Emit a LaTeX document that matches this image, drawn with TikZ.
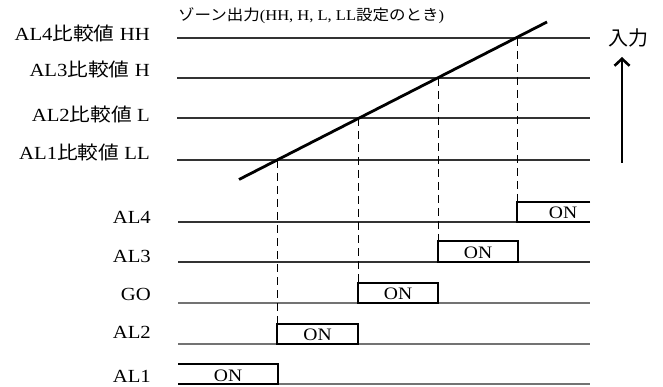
\documentclass[tikz,border=0pt]{standalone}
\usepackage{fontspec}
\setmainfont{Liberation Serif}
\newfontfamily\jp{Noto Sans CJK JP}
\usetikzlibrary{arrows.meta}
\newcommand{\sx}[1]{\scalebox{1.12}[1]{#1}}
\begin{document}
\begin{tikzpicture}[x=1pt,y=-1pt,
  thinline/.style={line width=1.1pt, draw=black!80},
  greyline/.style={line width=1.1pt, draw=black!55},
  slope/.style={line width=2.8pt, line cap=butt},
  onbox/.style={line width=2.4pt, line join=miter},
  dashv/.style={line width=1pt, dash pattern=on 8pt off 5pt},
  lab/.style={font=\fontsize{18.5}{18.5}\selectfont, inner sep=0pt, anchor=base east},
  ontext/.style={font=\fontsize{17.5}{17.5}\selectfont, inner sep=0pt, anchor=base}]
\useasboundingbox (0,0) rectangle (663,387);

% title
\node[inner sep=0pt, anchor=base west, font=\fontsize{15}{15}\selectfont] (title) at (178,21)
  {\scalebox{1.1}[1]{{\jp ゾーン出力}(HH, H, L, LL{\jp 設定のとき})}};

% top threshold lines
\coordinate (t4l) at (177,38);  \coordinate (t4r) at (590,38);
\coordinate (t3l) at (177,78);  \coordinate (t3r) at (590,78);
\coordinate (t2l) at (177,118); \coordinate (t2r) at (590,118);
\coordinate (t1l) at (177,160); \coordinate (t1r) at (590,160);
\draw[thinline] (t4l) -- (t4r);
\draw[thinline] (t3l) -- (t3r);
\draw[thinline] (t2l) -- (t2r);
\draw[thinline] (t1l) -- (t1r);

\node[lab] (l4) at (150,41) {\sx{AL4{\jp 比較値} HH}};
\node[lab] (l3) at (150,77) {\sx{AL3{\jp 比較値} H}};
\node[lab] (l2) at (150,122) {\sx{AL2{\jp 比較値} L}};
\node[lab] (l1) at (150,160) {\sx{AL1{\jp 比較値} LL}};

% input slope
\coordinate (s0) at (239,179.5);
\coordinate (s1) at (547,22);
\draw[slope] (s0) -- (s1);
\coordinate (c1) at (277,160);
\coordinate (c2) at (358,118);
\coordinate (c3) at (438,78);
\coordinate (c4) at (517,38);

% input arrow
\node[inner sep=0pt, anchor=base, font=\jp\fontsize{20}{20}\selectfont] (inp) at (628,46) {入力};
\coordinate (abot) at (622,163);
\coordinate (atop) at (622,57);
\draw[line width=2.6pt, -{Straight Barb[length=7pt,width=15pt,line width=2.6pt]}] (abot) -- (atop);

% bottom output lines
\coordinate (b4l) at (178,222); \coordinate (b4r) at (590,222);
\coordinate (b3l) at (178,262); \coordinate (b3r) at (590,262);
\coordinate (b0l) at (178,303); \coordinate (b0r) at (590,303);
\coordinate (b2l) at (178,344); \coordinate (b2r) at (590,344);
\coordinate (b1l) at (178,384); \coordinate (b1r) at (590,384);
\draw[thinline] (b4l) -- (b4r);
\draw[thinline] (b3l) -- (b3r);
\draw[greyline] (b0l) -- (b0r);
\draw[greyline] (b2l) -- (b2r);
\draw[greyline] (b1l) -- (b1r);

\node[lab] (o4) at (151,223) {\sx{AL4}};
\node[lab] (o3) at (151,262) {\sx{AL3}};
\node[lab] (o0) at (151,300) {\sx{GO}};
\node[lab] (o2) at (151,338) {\sx{AL2}};
\node[lab] (o1) at (151,382) {\sx{AL1}};

% ON boxes
\coordinate (a1tl) at (178,364); \coordinate (a1tr) at (278,364); \coordinate (a1br) at (278,384);
\draw[onbox] (a1tl) -- (a1tr) -- (a1br) -- (b1l);
\node[ontext] (on1) at (228,381) {\sx{ON}};

\coordinate (a2tl) at (277,324); \coordinate (a2br) at (358,344);
\draw[onbox] (a2tl) rectangle (a2br);
\node[ontext] (on2) at (317.5,340.5) {\sx{ON}};

\coordinate (a0tl) at (358,283); \coordinate (a0br) at (438,303);
\draw[onbox] (a0tl) rectangle (a0br);
\node[ontext] (on0) at (398,299.5) {\sx{ON}};

\coordinate (a3tl) at (438,241); \coordinate (a3br) at (518,262);
\draw[onbox] (a3tl) rectangle (a3br);
\node[ontext] (on3) at (478,258.5) {\sx{ON}};

\coordinate (a4tr) at (590,202); \coordinate (a4tl) at (517,202); \coordinate (a4bl) at (517,222);
\draw[onbox] (a4tr) -- (a4tl) -- (a4bl) -- (b4r);
\node[ontext] (on4) at (563,218.5) {\sx{ON}};

% dashed drop lines
\draw[dashv] (c1) -- (a2tl);
\draw[dashv] (c2) -- (a0tl);
\draw[dashv] (c3) -- (a3tl);
\draw[dashv] (c4) -- (a4tl);
\end{tikzpicture}
\end{document}
